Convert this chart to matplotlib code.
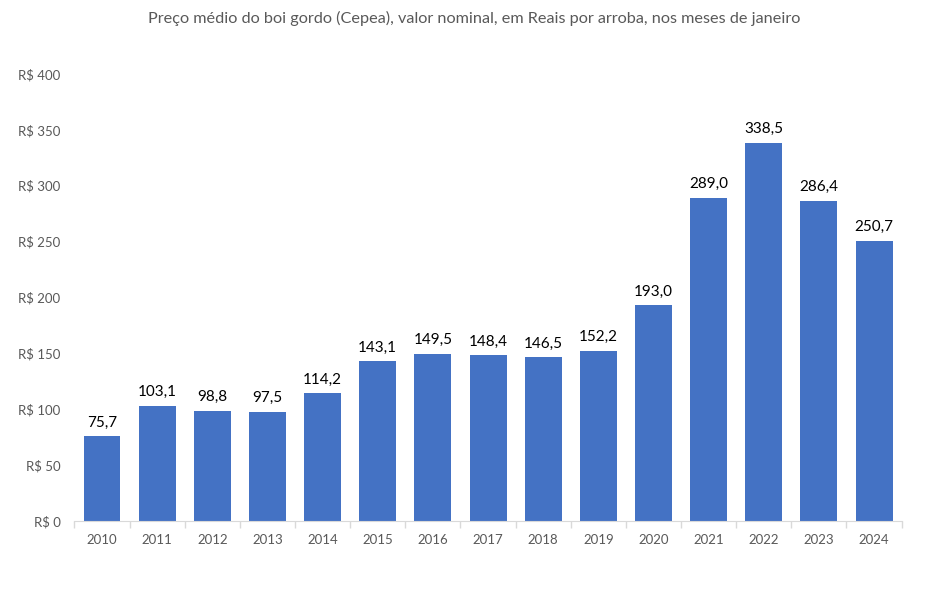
import numpy as np
import matplotlib.pyplot as plt

# Dados: preço médio do boi gordo (Cepea), janeiro de cada ano
anos = ['2010', '2011', '2012', '2013', '2014', '2015', '2016', '2017',
        '2018', '2019', '2020', '2021', '2022', '2023', '2024']
precos = [75.7, 103.1, 98.8, 97.5, 114.2, 143.1, 149.5, 148.4,
          146.5, 152.2, 193.0, 289.0, 338.5, 286.4, 250.7]
yticks = [0, 50, 100, 150, 200, 250, 300, 350, 400]

plt.rcParams['font.family'] = ['Lato', 'DejaVu Sans']

fig = plt.figure(figsize=(9.48, 5.90), dpi=100)
ax = fig.add_axes([0.0785, 0.1169, 0.8726, 0.7577])

x = np.arange(len(anos))
bars = ax.bar(x, precos, width=0.67, color='#4472C4')

for xi, v in zip(x, precos):
    ax.text(xi, v + 6, f'{v:.1f}'.replace('.', ','), ha='center', va='bottom',
            fontsize=11, color='black')

ax.set_xlim(-0.5, len(anos) - 0.5)
ax.set_ylim(0, 400)
ax.set_yticks(yticks)
ax.set_yticklabels([f'R$ {t}' for t in yticks])
ax.set_xticks(x)
ax.set_xticklabels(anos)
ax.set_xticks(np.arange(-0.5, len(anos), 1), minor=True)

ax.tick_params(axis='y', length=0, pad=10, labelsize=9.5, labelcolor='#595959')
ax.tick_params(axis='x', which='major', length=0, pad=9, labelsize=9.5, labelcolor='#595959')
ax.tick_params(axis='x', which='minor', length=5, color='#D9D9D9', width=1)

for s in ['top', 'right', 'left']:
    ax.spines[s].set_visible(False)
ax.spines['bottom'].set_color('#D9D9D9')

fig.text(0.5, 0.968, 'Preço médio do boi gordo (Cepea), valor nominal, em Reais por arroba, nos meses de janeiro',
         ha='center', va='center', fontsize=11.7, color='#595959')

fig.savefig('out.png', dpi=100)
